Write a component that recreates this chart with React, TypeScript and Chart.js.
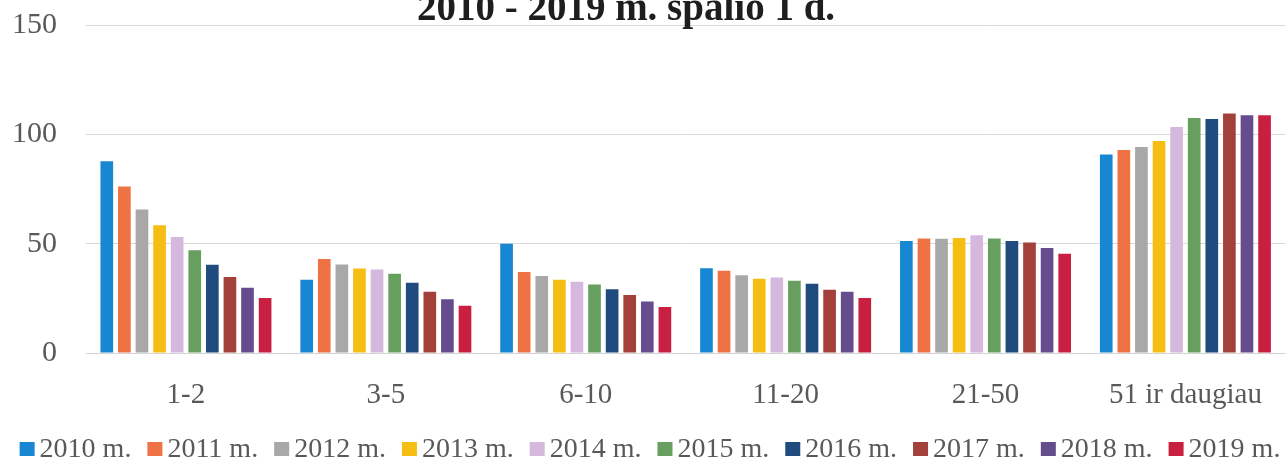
import React, { useEffect, useRef } from "react";
import { Chart, registerables } from "chart.js";

Chart.register(...registerables);

const TITLE = "2010 - 2019 m. spalio 1 d.";
const CATEGORIES = ["1-2", "3-5", "6-10", "11-20", "21-50", "51 ir daugiau"];
const SERIES_LABELS = ["2010 m.", "2011 m.", "2012 m.", "2013 m.", "2014 m.", "2015 m.", "2016 m.", "2017 m.", "2018 m.", "2019 m."];
const SERIES_COLORS = ["#1787d3", "#ee7244", "#a8a8a8", "#f6bd12", "#d6b8de", "#67a05e", "#1f4b7e", "#a3403a", "#654c8d", "#c91f40"];

const V2010 = [87.7, 33.5, 50.0, 38.8, 51.2, 90.8];
const V2011 = [76.1, 43.0, 37.0, 37.6, 52.4, 92.8];
const V2012 = [65.6, 40.5, 35.2, 35.5, 52.3, 94.2];
const V2013 = [58.4, 38.7, 33.5, 33.9, 52.6, 96.9];
const V2014 = [53.1, 38.2, 32.6, 34.5, 53.8, 103.3];
const V2015 = [47.0, 36.2, 31.3, 33.0, 52.4, 107.5];
const V2016 = [40.4, 32.1, 29.2, 31.7, 51.2, 107.0];
const V2017 = [34.7, 28.0, 26.5, 28.9, 50.5, 109.5];
const V2018 = [29.8, 24.6, 23.5, 28.0, 48.0, 108.7];
const V2019 = [25.2, 21.6, 21.0, 25.2, 45.4, 108.7];
const SERIES_VALUES = [V2010, V2011, V2012, V2013, V2014, V2015, V2016, V2017, V2018, V2019];

const Y_MIN = 0;
const Y_MAX = 150;
const Y_STEP = 50;

const TEXT_GRAY = "#595959";
const FONT = '"Liberation Serif", "Times New Roman", serif';

const titlePlugin = {
  id: "topTitle",
  afterDraw(chart: any) {
    const ctx = chart.ctx;
    ctx.save();
    ctx.font = `bold 39px ${FONT}`;
    ctx.fillStyle = "#1e1e1e";
    ctx.textAlign = "center";
    ctx.textBaseline = "alphabetic";
    ctx.fillText(TITLE, 626, 20);
    ctx.restore();
  },
};

const legendPlugin = {
  id: "bottomLegend",
  afterDraw(chart: any) {
    const ctx = chart.ctx;
    ctx.save();
    ctx.font = `28px ${FONT}`;
    const box = 15;
    const gap = 5;
    const sep = 16;
    const items = chart.data.datasets.map((ds: any) => ({
      label: ds.label as string,
      color: ds.backgroundColor as string,
      w: ctx.measureText(ds.label).width,
    }));
    const total = items.reduce((s: number, it: any) => s + box + gap + it.w, 0) + sep * (items.length - 1);
    let x = 650 - total / 2;
    const baseline = 457;
    ctx.textBaseline = "alphabetic";
    ctx.textAlign = "left";
    for (const it of items) {
      ctx.fillStyle = it.color;
      ctx.fillRect(x, baseline - 15, box, 14);
      x += box + gap;
      ctx.fillStyle = TEXT_GRAY;
      ctx.fillText(it.label, x, baseline);
      x += it.w + sep;
    }
    ctx.restore();
  },
};

export default function App() {
  const canvasRef = useRef<HTMLCanvasElement | null>(null);

  useEffect(() => {
    document.body.style.margin = "0";
    document.body.style.overflow = "hidden";
    const canvas = canvasRef.current;
    if (!canvas) return;
    const chart = new Chart(canvas, {
      type: "bar",
      data: {
        labels: CATEGORIES,
        datasets: SERIES_LABELS.map((label, i) => ({
          label,
          data: SERIES_VALUES[i],
          backgroundColor: SERIES_COLORS[i],
          borderWidth: 0,
          categoryPercentage: 0.88,
          barPercentage: 0.72,
        })),
      },
      options: {
        responsive: false,
        animation: false,
        devicePixelRatio: 1,
        layout: { padding: { top: 25, left: 12, right: 1, bottom: 49 } },
        plugins: {
          legend: { display: false },
          title: { display: false },
          tooltip: { enabled: false },
        },
        scales: {
          x: {
            grid: { display: false, drawTicks: false },
            border: { display: true, color: "#d4d4d4", width: 1 },
            ticks: {
              color: TEXT_GRAY,
              font: { family: FONT, size: 29 },
              padding: 25,
              maxRotation: 0,
              autoSkip: false,
            },
            afterFit: (scale: any) => {
              scale.height = 57;
            },
          },
          y: {
            min: Y_MIN,
            max: Y_MAX,
            grid: { color: "#d9d9d9", lineWidth: 1, drawTicks: false },
            border: { display: false },
            ticks: {
              stepSize: Y_STEP,
              color: TEXT_GRAY,
              font: { family: FONT, size: 30 },
              padding: 29,
            },
            afterFit: (scale: any) => {
              scale.width = 74;
              scale.paddingTop = 0;
              scale.paddingBottom = 0;
            },
          },
        },
      },
      plugins: [titlePlugin, legendPlugin],
    });
    return () => chart.destroy();
  }, []);

  return (
    <div style={{ width: 1287, height: 459, position: "relative", background: "#fff" }}>
      <canvas ref={canvasRef} width={1287} height={459} style={{ display: "block" }} />
    </div>
  );
}
